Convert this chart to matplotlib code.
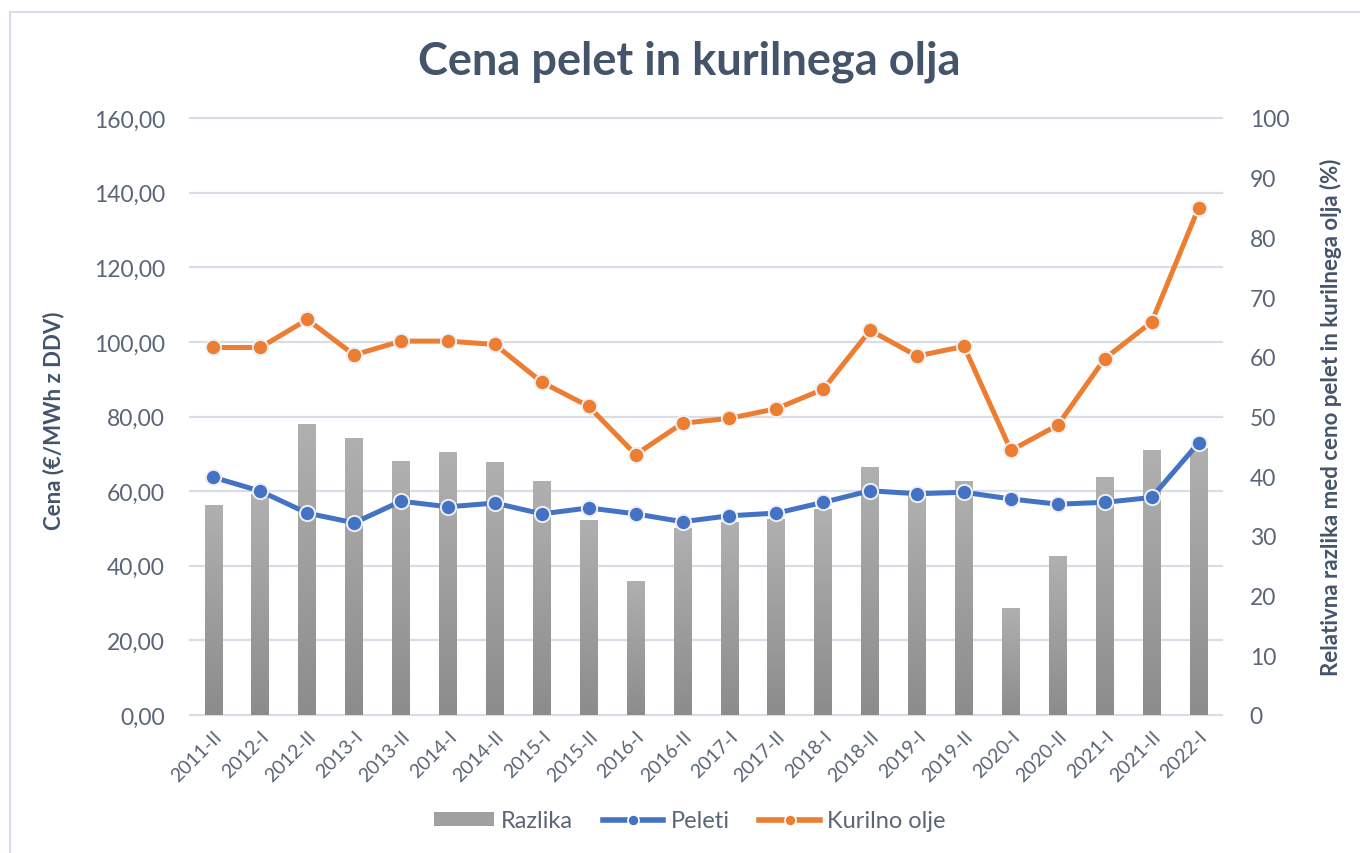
import matplotlib
matplotlib.use("Agg")
import matplotlib.pyplot as plt
import numpy as np
from matplotlib.lines import Line2D
from matplotlib.patches import Patch, Rectangle
from matplotlib.colors import LinearSegmentedColormap

categories = ['2011-II', '2012-I', '2012-II', '2013-I', '2013-II', '2014-I', '2014-II',
              '2015-I', '2015-II', '2016-I', '2016-II', '2017-I', '2017-II', '2018-I',
              '2018-II', '2019-I', '2019-II', '2020-I', '2020-II', '2021-I', '2021-II', '2022-I']
kurilno_olje = [98.5, 98.5, 106.0, 96.5, 100.2, 100.2, 99.3, 89.2, 82.7, 69.8, 78.2,
                79.5, 82.1, 87.3, 103.1, 96.2, 98.8, 70.9, 77.7, 95.5, 105.3, 135.9]
peleti = [63.7, 60.0, 54.1, 51.5, 57.3, 55.8, 56.8, 53.9, 55.5, 53.9, 51.8,
          53.4, 54.1, 57.0, 60.1, 59.3, 59.7, 57.9, 56.5, 57.0, 58.3, 72.9]
razlika = [35.1, 37.0, 48.7, 46.4, 42.5, 44.0, 42.3, 39.2, 32.7, 22.5, 31.4,
           32.4, 32.8, 34.5, 41.6, 36.6, 39.2, 18.0, 26.6, 39.8, 44.4, 44.8]
left_ticks = [0, 20, 40, 60, 80, 100, 120, 140, 160]
right_ticks = [0, 10, 20, 30, 40, 50, 60, 70, 80, 90, 100]

FONT = ['Lato', 'DejaVu Sans']
plt.rcParams['font.family'] = FONT
TXT = '#5A6577'
DARK = '#44546A'
GRID = '#D9DEE6'
BLUE = '#4472C4'
ORANGE = '#ED7D31'

fig = plt.figure(figsize=(13.6, 8.54), dpi=100)
fig.patch.set_facecolor('white')

# outer frame
fig.add_artist(Rectangle((10 / 1360, -0.1), 1.2, 1 - 13 / 854 + 0.1, transform=fig.transFigure,
                         fill=False, edgecolor=GRID, linewidth=1.6))

ax = fig.add_axes([190 / 1360, 1 - 716 / 854, 1032 / 1360, 597 / 854])
ax2 = ax.twinx()
ax.set_zorder(ax2.get_zorder() + 1)
ax.patch.set_visible(False)

x = np.arange(len(categories))
ax.set_xlim(-0.5, len(categories) - 0.5)
ax.set_ylim(0, 160)
ax2.set_ylim(0, 100)

# gridlines (left axis values) drawn behind bars
for v in left_ticks:
    ax2.plot([0, 1], [v, v], transform=ax.get_yaxis_transform(), color=GRID,
             linewidth=1.6, zorder=0, clip_on=False)

bars = ax2.bar(x, razlika, width=0.38, color='#9E9E9E', zorder=2, edgecolor='none')
grad = np.linspace(0, 1, 256).reshape(-1, 1)
cmap = LinearSegmentedColormap.from_list('g', ['#8C8C8C', '#B0B0B0'])
for b in bars:
    x0, y0 = b.get_x(), b.get_y()
    im = ax2.imshow(grad, extent=(x0, x0 + b.get_width(), y0, y0 + b.get_height()),
                    origin='lower', aspect='auto', cmap=cmap, zorder=3)
    im.set_clip_path(b)
ax2.set_xlim(-0.5, len(categories) - 0.5)
ax2.set_ylim(0, 100)

ax.plot(x, peleti, color=BLUE, linewidth=3.6, marker='o', markersize=11,
        markerfacecolor=BLUE, markeredgecolor='#EEF0F4', markeredgewidth=1.4, zorder=4,
        solid_capstyle='round')
ax.plot(x, kurilno_olje, color=ORANGE, linewidth=3.6, marker='o', markersize=11,
        markerfacecolor=ORANGE, markeredgecolor='#EEF0F4', markeredgewidth=1.4, zorder=5,
        solid_capstyle='round')

for a in (ax, ax2):
    for s in a.spines.values():
        s.set_visible(False)

ax.set_yticks(left_ticks)
ax.set_yticklabels([f'{v:.2f}'.replace('.', ',') for v in left_ticks])
ax.tick_params(axis='y', length=0, pad=18, labelsize=16.5, labelcolor=TXT)
ax2.set_yticks(right_ticks)
ax2.set_yticklabels([str(v) for v in right_ticks])
ax2.tick_params(axis='y', length=0, pad=20, labelsize=16.5, labelcolor=TXT)

ax.set_xticks(x)
ax.set_xticklabels(categories, rotation=45, ha='right', rotation_mode='anchor')
ax.tick_params(axis='x', length=0, pad=9, labelsize=14, labelcolor=TXT)
ax2.tick_params(axis='x', length=0, labelbottom=False)

ax.set_ylabel('Cena (€/MWh z DDV)', fontsize=16, fontweight='bold', color=DARK)
ax.yaxis.set_label_coords(-0.122, 0.495)
ax2.set_ylabel('Relativna razlika med ceno pelet in kurilnega olja (%)', fontsize=16,
               fontweight='bold', color=DARK, rotation=90)
ax2.yaxis.set_label_coords(1.095, 0.5)

fig.text(0.507, 1 - 62 / 854, 'Cena pelet in kurilnega olja', ha='center', va='center',
         fontsize=32.5, fontweight='bold', color=DARK)

handles = [Patch(facecolor='#A0A0A0', edgecolor='none'),
           Line2D([], [], color=BLUE, linewidth=4, marker='o', markersize=8,
                  markeredgecolor='white', markeredgewidth=1.2),
           Line2D([], [], color=ORANGE, linewidth=4, marker='o', markersize=8,
                  markeredgecolor='white', markeredgewidth=1.2)]
leg = fig.legend(handles, ['Razlika', 'Peleti', 'Kurilno olje'], loc='center',
                 bbox_to_anchor=(0.507, 1 - 822 / 854), ncol=3, frameon=False,
                 fontsize=17, handlelength=2.55, handleheight=0.5, handletextpad=0.3,
                 columnspacing=1.27)
for t in leg.get_texts():
    t.set_color(TXT)

fig.savefig('out.png', dpi=100, facecolor='white')
